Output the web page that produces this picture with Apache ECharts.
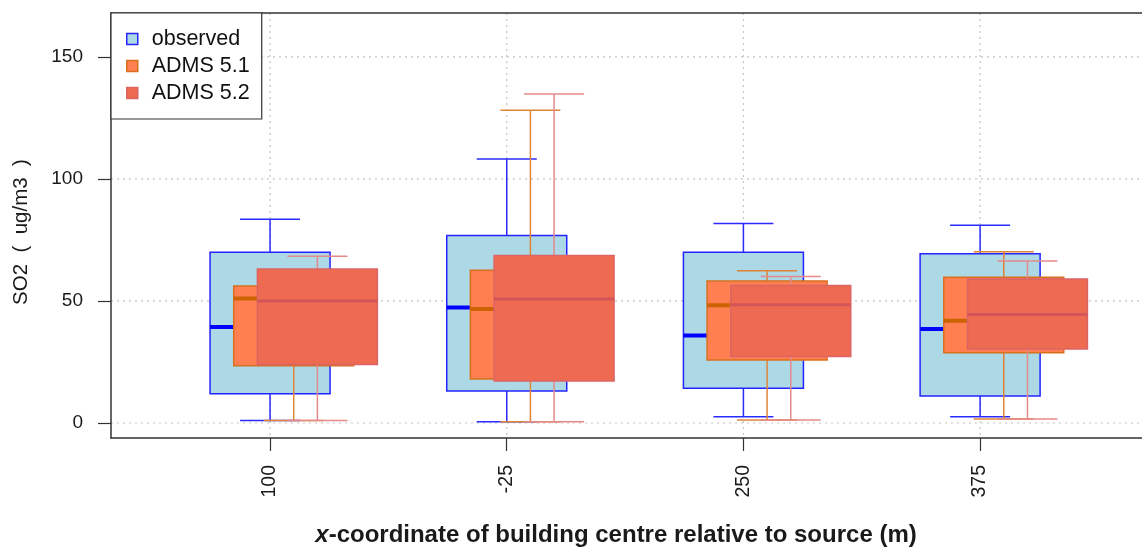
<!DOCTYPE html>
<html>
<head>
<meta charset="utf-8">
<script src="https://cdn.jsdelivr.net/npm/echarts@6/dist/echarts.min.js"></script>
<style>html,body{margin:0;padding:0;background:#fff;}#c{width:1142px;height:552px;}</style>
</head>
<body>
<div id="c"></div>
<script>
// ---- data ----
const categories = ['100', '-25', '250', '375'];
const yTicks = [0, 50, 100, 150];
// [min, Q1, median, Q3, max]
const observed = [
  [1.0, 12.0, 39.3, 70.0, 83.5],
  [0.5, 13.1, 47.3, 76.8, 108.2],
  [2.6, 14.2, 35.8, 70.0, 81.7],
  [2.6, 11.1, 38.5, 69.3, 81.0]
];
const adms51 = [
  [1.0, 23.5, 51.0, 56.1, 60.0],
  [0.5, 18.0, 46.7, 62.6, 128.1],
  [1.2, 25.8, 48.2, 58.2, 62.4],
  [1.6, 28.8, 41.9, 59.7, 70.2]
];
const adms52 = [
  [1.0, 24.0, 50.0, 63.1, 68.3],
  [0.5, 17.2, 50.8, 68.6, 134.8],
  [1.2, 27.2, 48.5, 56.3, 60.0],
  [1.6, 30.3, 44.5, 59.0, 66.4]
];
const seriesNames = ['observed', 'ADMS 5.1', 'ADMS 5.2'];

// ---- layout / style ----
const xMin = 0.328, xMax = 4.684;
const boxW = 0.507;
const offsets = [0, 0.1, 0.2];
const styles = [
  {fill: '#ADD8E6', border: '#2424FF', whisker: '#2a2aff', median: '#0000FF', medW: 4},
  {fill: '#FF7F50', border: '#D8701E', whisker: '#E08435', median: '#CC6200', medW: 4},
  {fill: '#EE6A50', border: '#DC6464', whisker: '#E38A8A', median: '#D2555A', medW: 3}
];

function boxData(arr, off) {
  return arr.map((d, i) => [i + 1 + off].concat(d));
}

function makeRender(st) {
  return function (params, api) {
    const x = api.value(0);
    const w = api.size([boxW, 0])[0];
    const cx = api.coord([x, 0])[0];
    const yMin = api.coord([x, api.value(1)])[1];
    const yQ1 = api.coord([x, api.value(2)])[1];
    const yMed = api.coord([x, api.value(3)])[1];
    const yQ3 = api.coord([x, api.value(4)])[1];
    const yMax = api.coord([x, api.value(5)])[1];
    const wl = {stroke: st.whisker, lineWidth: 1.5};
    return {
      type: 'group',
      children: [
        {type: 'line', shape: {x1: cx, y1: yQ1, x2: cx, y2: yMin}, style: wl},
        {type: 'line', shape: {x1: cx, y1: yQ3, x2: cx, y2: yMax}, style: wl},
        {type: 'line', shape: {x1: cx - w / 4, y1: yMin, x2: cx + w / 4, y2: yMin}, style: wl},
        {type: 'line', shape: {x1: cx - w / 4, y1: yMax, x2: cx + w / 4, y2: yMax}, style: wl},
        {type: 'rect', shape: {x: cx - w / 2, y: yQ3, width: w, height: yQ1 - yQ3},
          style: {fill: st.fill, stroke: st.border, lineWidth: 1.5}},
        {type: 'line', shape: {x1: cx - w / 2, y1: yMed, x2: cx + w / 2, y2: yMed},
          style: {stroke: st.median, lineWidth: st.medW}}
      ]
    };
  };
}

const gridLineData = yTicks.map(v => [0, v]).concat(categories.map((c, i) => [1, i + 1]));

const chart = echarts.init(document.getElementById('c'), null, {renderer: 'canvas'});
const txt = '#1a1a1a';
chart.setOption({
  animation: false,
  backgroundColor: '#fff',
  grid: {left: 111, right: 0, top: 13, bottom: 114, containLabel: false},
  xAxis: [{
    type: 'value', min: xMin, max: xMax, position: 'bottom',
    axisLine: {show: true, onZero: false, lineStyle: {color: '#333', width: 1.5}},
    axisTick: {show: true, length: 13, customValues: [1, 2, 3, 4], lineStyle: {color: '#333', width: 1.2}},
    axisLabel: {show: true, customValues: [1, 2, 3, 4], rotate: 90, margin: 27,
      formatter: v => categories[Math.round(v) - 1], fontSize: 19.5, color: txt, fontFamily: 'Liberation Sans'},
    splitLine: {show: false}
  }, {
    type: 'value', min: xMin, max: xMax, position: 'top',
    axisLine: {show: true, onZero: false, lineStyle: {color: '#333', width: 1.5}},
    axisTick: {show: false}, axisLabel: {show: false}, splitLine: {show: false}
  }],
  yAxis: {
    type: 'value', min: -6.15, max: 168,
    axisLine: {show: true, onZero: false, lineStyle: {color: '#333', width: 1.5}},
    axisTick: {show: true, length: 13, customValues: yTicks, lineStyle: {color: '#333', width: 1.2}},
    axisLabel: {show: true, customValues: yTicks, margin: 28, fontSize: 19, color: txt, fontFamily: 'Liberation Sans'},
    splitLine: {show: false}
  },
  legend: {
    left: 111, top: 13, orient: 'vertical',
    backgroundColor: '#fff', borderColor: '#333', borderWidth: 1.2, borderRadius: 0,
    padding: [15, 12, 15, 15],
    itemWidth: 11, itemHeight: 11, itemGap: 5, icon: 'rect',
    textStyle: {fontSize: 21.5, lineHeight: 21, color: '#111', fontFamily: 'Liberation Sans', padding: [0, 0, 0, 9]},
    data: seriesNames.map((n, i) => ({name: n, itemStyle: {color: styles[i].fill, borderColor: styles[i].border, borderWidth: 1.5}})),
    z: 10
  },
  graphic: [
    {type: 'text', x: 21, y: 232, rotation: Math.PI / 2,
      style: {text: 'SO2  (  ug/m3  )', fontSize: 20.5, fontFamily: 'Liberation Sans', fill: txt, align: 'center', verticalAlign: 'middle'}},
    {type: 'text', x: 616, y: 535,
      style: {text: '{i|x}-coordinate of building centre relative to source (m)',
        rich: {i: {fontStyle: 'italic', fontWeight: 'bold', fontSize: 24, fontFamily: 'Liberation Sans', fill: txt}},
        fontSize: 24, fontWeight: 'bold', fontFamily: 'Liberation Sans', fill: txt, align: 'center', verticalAlign: 'middle'}}
  ],
  series: [
    {
      type: 'custom', name: 'grid', silent: true, z: 0,
      data: gridLineData,
      encode: {x: -1, y: -1},
      renderItem: function (params, api) {
        const cs = params.coordSys;
        const kind = api.value(0), v = api.value(1);
        const st = {stroke: '#c4c4c4', lineWidth: 1.2, lineDash: [2, 4]};
        if (kind === 0) {
          const y = api.coord([xMin, v])[1];
          return {type: 'line', shape: {x1: cs.x, y1: y, x2: cs.x + cs.width, y2: y}, style: st};
        } else {
          const x = api.coord([v, 0])[0];
          return {type: 'line', shape: {x1: x, y1: cs.y, x2: x, y2: cs.y + cs.height}, style: st};
        }
      }
    }
  ].concat([observed, adms51, adms52].map((arr, i) => ({
    type: 'custom', name: seriesNames[i], z: 2 + i,
    data: boxData(arr, offsets[i]),
    encode: {x: 0, y: [1, 2, 3, 4, 5]},
    itemStyle: {color: styles[i].fill, borderColor: styles[i].border},
    renderItem: makeRender(styles[i])
  })))
});
</script>
</body>
</html>
